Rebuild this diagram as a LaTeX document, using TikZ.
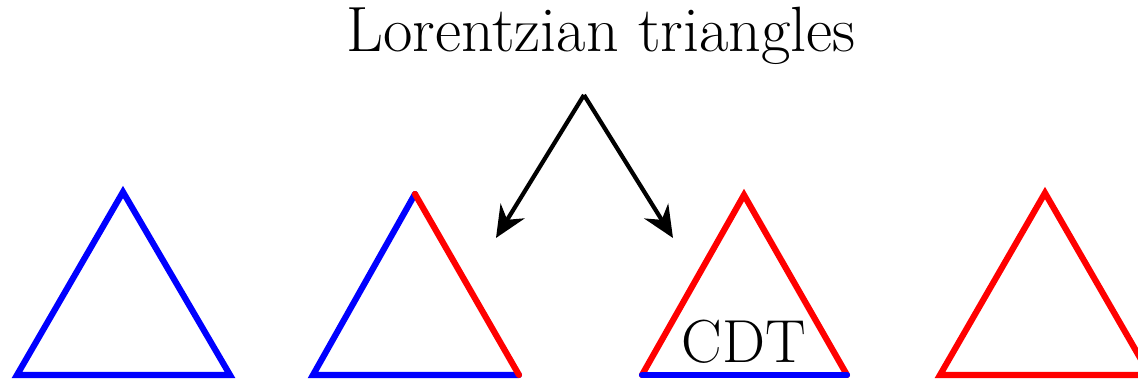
\documentclass[tikz,border=0pt]{standalone}
\usepackage{amsmath}
\usepackage{amssymb}
\usetikzlibrary{arrows.meta}

\begin{document}
\begin{tikzpicture}[x=0.01cm,y=0.01cm,
  edge/.style={line width=1.75pt,line cap=round,line join=miter},
  pointer/.style={line width=1.2pt,-{Stealth[length=9pt,width=8pt]}}]
  \useasboundingbox (0,0) rectangle (1138,380);
  \clip (0,0) rectangle (1138,380);
  % triangles
  \coordinate (A1) at (17,5);   \coordinate (B1) at (230,5);  \coordinate (C1) at (123,188);
  \coordinate (A2) at (313,5);  \coordinate (B2) at (519,5);  \coordinate (C2) at (415,186);
  \coordinate (A3) at (642,5);  \coordinate (B3) at (847,5);  \coordinate (C3) at (744,185);
  \coordinate (A4) at (940,5);  \coordinate (B4) at (1150,5); \coordinate (C4) at (1045,187);
  \draw[edge,blue] (A1)--(B1)--(C1)--cycle;
  \draw[edge,blue] (B2)--(A2)--(C2);
  \draw[edge,red] (C2)--(B2);
  \draw[edge,red] (A3)--(C3)--(B3);
  \draw[edge,blue] (A3)--(B3);
  \draw[edge,red] (A4)--(B4)--(C4)--cycle;
  \node[anchor=base] (cdt) at (744,17) {\LARGE CDT};
  % label and arrows
  \node[anchor=base] (title) at (601,328) {\fontsize{18.2}{22}\selectfont Lorentzian triangles};
  \coordinate (top) at (584,285);
  \coordinate (tipL) at (496,142);
  \coordinate (tipR) at (673,142);
  \draw[pointer] (top)--(tipL);
  \draw[pointer] (top)--(tipR);
\end{tikzpicture}
\end{document}
